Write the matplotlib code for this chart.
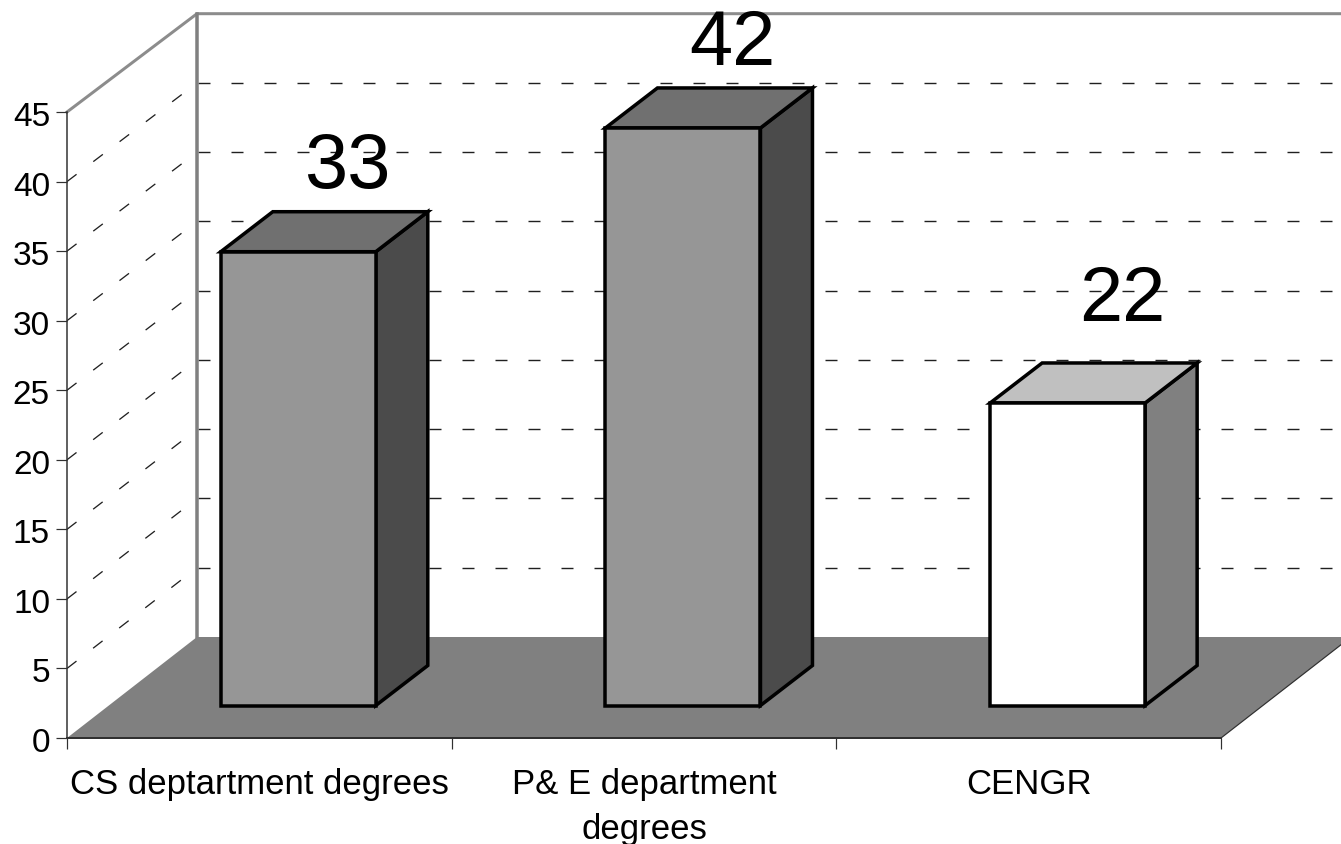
import matplotlib
matplotlib.use('Agg')
import matplotlib.pyplot as plt
from matplotlib.patches import Polygon
from matplotlib.transforms import ScaledTranslation

plt.rcParams['font.family'] = ['Liberation Sans', 'DejaVu Sans']
plt.rcParams['lines.scale_dashes'] = False

categories = ['CS deptartment degrees', 'P& E department\ndegrees', 'CENGR']
values = [33, 42, 22]
y_ticks = [0, 5, 10, 15, 20, 25, 30, 35, 40, 45]

front_colors = ['#969696', '#969696', '#ffffff']
top_colors = ['#707070', '#707070', '#c0c0c0']
side_colors = ['#4b4b4b', '#4b4b4b', '#808080']

W, H = 1341, 845
px = 0.72  # one pixel in points at dpi 100

fig = plt.figure(figsize=(W / 100, H / 100), dpi=100, facecolor='white')
ax = fig.add_axes([67 / W, 1 - 739 / H, (1221 - 67) / W, (739 - 113) / H])
ax.set_xlim(0, 3)
ax.set_ylim(0, 45)
ax.patch.set_visible(False)

# size of the fake 3d box, data units
unit_x = (1221 - 67) / 3
unit_y = (739 - 113) / 45
depth_x = 130 / unit_x
depth_y = 101 / unit_y

# walls and grid
dash = (0, (12 * px, 21 * px))
wall_scale = 0.9957
for v in y_ticks[1:-1]:
    y_back = v * wall_scale + depth_y
    ax.plot([depth_x, 3 + depth_x], [y_back, y_back], color='#202020',
            lw=1.4 * px, ls=(32 * px, (12 * px, 21 * px)), clip_on=False, zorder=1)
    ax.plot([0, depth_x], [v, y_back], color='#202020', lw=1.3 * px, ls=dash,
            clip_on=False, zorder=1)
wall_top = 45 * wall_scale + depth_y
ax.plot([0, depth_x, 3 + depth_x], [45, wall_top, wall_top], color='#8c8c8c',
        lw=3 * px, clip_on=False, zorder=1, solid_joinstyle='miter')
ax.plot([depth_x, depth_x], [depth_y, wall_top], color='#808080', lw=3.5 * px,
        clip_on=False, zorder=1)

# floor
ax.add_patch(Polygon([(0, 0), (depth_x, depth_y), (3 + depth_x, depth_y), (3, 0)],
                     closed=True, facecolor='#808080', edgecolor='none', clip_on=False, zorder=2))
ax.plot([3, 3 + depth_x], [0, depth_y], color='#303030', lw=1.2 * px, clip_on=False, zorder=2)

# bars
bar_w = 155 / unit_x
bar_dx = 52 / unit_x
bar_dy = 40 / unit_y
base = 32.5 / unit_y
label_dx = [50, 50, 55]
label_dy = [85, 84, 103]
for i, v in enumerate(values):
    x0 = i + 0.6 - bar_w / 2 + 0.5 / unit_x
    x1 = x0 + bar_w
    top = base + v * 0.9885
    ec = dict(edgecolor='black', linewidth=3.5 * px, joinstyle='miter', clip_on=False, zorder=3)
    ax.add_patch(Polygon([(x1, base), (x1 + bar_dx, base + bar_dy), (x1 + bar_dx, top + bar_dy), (x1, top)],
                         closed=True, facecolor=side_colors[i], **ec))
    ax.add_patch(Polygon([(x0, top), (x1, top), (x1 + bar_dx, top + bar_dy), (x0 + bar_dx, top + bar_dy)],
                         closed=True, facecolor=top_colors[i], **ec))
    ax.add_patch(Polygon([(x0, base), (x1, base), (x1, top), (x0, top)],
                         closed=True, facecolor=front_colors[i], **ec))
    ax.text(i + 0.6 + label_dx[i] / unit_x, top + label_dy[i] / unit_y, str(v), fontsize=56,
            ha='center', va='center', color='black', zorder=5, clip_on=False)

# axes
for s in ['top', 'right']:
    ax.spines[s].set_visible(False)
ax.spines['left'].set_color('#303030')
ax.spines['left'].set_linewidth(1.5 * px)
ax.spines['bottom'].set_color('#303030')
ax.spines['bottom'].set_linewidth(2 * px)
ax.spines['left'].set_zorder(4)
ax.spines['bottom'].set_zorder(4)
ax.set_yticks(y_ticks)
ax.set_yticklabels([str(t) for t in y_ticks], fontsize=24, va='center')
ax.set_xticks([0, 1, 2, 3])
ax.set_xticklabels([])
ax.set_xticks([0.5, 1.5, 2.5], minor=True)
ax.set_xticklabels(categories, minor=True, fontsize=25, linespacing=1.47)
ax.tick_params(axis='y', length=11 * px, width=1.2 * px, color='#303030', pad=6 * px)
ax.tick_params(axis='x', which='major', length=11 * px, width=1.2 * px, color='#303030')
ax.tick_params(axis='x', which='minor', length=0, pad=29 * px)

# tick numbers sit a bit under their ticks in the original
shift = ScaledTranslation(0, -4.5 / 100, fig.dpi_scale_trans)
for t in ax.get_yticklabels():
    t.set_transform(t.get_transform() + shift)

fig.savefig('out.png', dpi=100)
